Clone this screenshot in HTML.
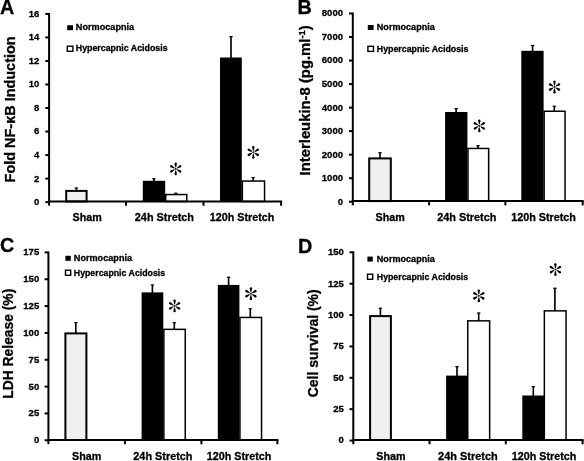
<!DOCTYPE html>
<html><head><meta charset="utf-8"><title>Figure</title>
<style>
html,body{margin:0;padding:0;background:#fff;}
body{width:584px;height:461px;overflow:hidden;}
svg{display:block;will-change:transform;}
text{font-family:"Liberation Sans", sans-serif;fill:#000;stroke:#000;stroke-width:0.3px;}
</style></head>
<body>
<svg width="584" height="461" viewBox="0 0 584 461">
<rect width="584" height="461" fill="#fff"/>
<line x1="76.4" y1="190.9" x2="76.4" y2="188" stroke="#000" stroke-width="1.65" stroke-linecap="butt"/>
<ellipse cx="76.4" cy="187.95" rx="2" ry="0.75" fill="#000"/>
<line x1="153.9" y1="181.8" x2="153.9" y2="178.9" stroke="#000" stroke-width="1.65" stroke-linecap="butt"/>
<ellipse cx="153.9" cy="178.85" rx="2" ry="0.75" fill="#000"/>
<line x1="175.8" y1="194.8" x2="175.8" y2="193.2" stroke="#000" stroke-width="1.65" stroke-linecap="butt"/>
<ellipse cx="175.8" cy="193.15" rx="2" ry="0.75" fill="#000"/>
<line x1="231" y1="58.5" x2="231" y2="36.7" stroke="#000" stroke-width="1.65" stroke-linecap="butt"/>
<ellipse cx="231" cy="36.65" rx="2" ry="0.75" fill="#000"/>
<line x1="253.2" y1="181.3" x2="253.2" y2="177.7" stroke="#000" stroke-width="1.65" stroke-linecap="butt"/>
<ellipse cx="253.2" cy="177.65" rx="2" ry="0.75" fill="#000"/>
<rect x="66.2" y="190.9" width="20.4" height="10.55" fill="#f0f0f0" stroke="#000" stroke-width="2"/>
<rect x="142.8" y="180.8" width="22.4" height="20.65" fill="#000"/>
<rect x="165.75" y="194.55" width="21" height="6.9" fill="#fff" stroke="#000" stroke-width="1.5"/>
<rect x="220" y="57.5" width="21.8" height="143.95" fill="#000"/>
<rect x="242.35" y="181.05" width="22.2" height="20.4" fill="#fff" stroke="#000" stroke-width="1.5"/>
<line x1="49.1" y1="13" x2="49.1" y2="205.65" stroke="#000" stroke-width="2" stroke-linecap="butt"/>
<line x1="45.3" y1="202.14" x2="49.1" y2="202.14" stroke="#000" stroke-width="2" stroke-linecap="butt"/>
<text x="39.4" y="205.04" font-size="9.5" font-weight="bold" text-anchor="end" textLength="5.3" lengthAdjust="spacingAndGlyphs">0</text>
<line x1="45.3" y1="178.61" x2="49.1" y2="178.61" stroke="#000" stroke-width="2" stroke-linecap="butt"/>
<text x="39.4" y="181.51" font-size="9.5" font-weight="bold" text-anchor="end" textLength="5.3" lengthAdjust="spacingAndGlyphs">2</text>
<line x1="45.3" y1="155.08" x2="49.1" y2="155.08" stroke="#000" stroke-width="2" stroke-linecap="butt"/>
<text x="39.4" y="157.98" font-size="9.5" font-weight="bold" text-anchor="end" textLength="5.3" lengthAdjust="spacingAndGlyphs">4</text>
<line x1="45.3" y1="131.55" x2="49.1" y2="131.55" stroke="#000" stroke-width="2" stroke-linecap="butt"/>
<text x="39.4" y="134.45" font-size="9.5" font-weight="bold" text-anchor="end" textLength="5.3" lengthAdjust="spacingAndGlyphs">6</text>
<line x1="45.3" y1="108.02" x2="49.1" y2="108.02" stroke="#000" stroke-width="2" stroke-linecap="butt"/>
<text x="39.4" y="110.92" font-size="9.5" font-weight="bold" text-anchor="end" textLength="5.3" lengthAdjust="spacingAndGlyphs">8</text>
<line x1="45.3" y1="84.49" x2="49.1" y2="84.49" stroke="#000" stroke-width="2" stroke-linecap="butt"/>
<text x="39.4" y="87.39" font-size="9.5" font-weight="bold" text-anchor="end" textLength="10.6" lengthAdjust="spacingAndGlyphs">10</text>
<line x1="45.3" y1="60.96" x2="49.1" y2="60.96" stroke="#000" stroke-width="2" stroke-linecap="butt"/>
<text x="39.4" y="63.86" font-size="9.5" font-weight="bold" text-anchor="end" textLength="10.6" lengthAdjust="spacingAndGlyphs">12</text>
<line x1="45.3" y1="37.43" x2="49.1" y2="37.43" stroke="#000" stroke-width="2" stroke-linecap="butt"/>
<text x="39.4" y="40.33" font-size="9.5" font-weight="bold" text-anchor="end" textLength="10.6" lengthAdjust="spacingAndGlyphs">14</text>
<line x1="45.3" y1="13.9" x2="49.1" y2="13.9" stroke="#000" stroke-width="2" stroke-linecap="butt"/>
<text x="39.4" y="16.8" font-size="9.5" font-weight="bold" text-anchor="end" textLength="10.6" lengthAdjust="spacingAndGlyphs">16</text>
<line x1="48.1" y1="201.45" x2="282.1" y2="201.45" stroke="#000" stroke-width="2" stroke-linecap="butt"/>
<line x1="126" y1="201.45" x2="126" y2="205.75" stroke="#000" stroke-width="2" stroke-linecap="butt"/>
<line x1="203.5" y1="201.45" x2="203.5" y2="205.75" stroke="#000" stroke-width="2" stroke-linecap="butt"/>
<line x1="281.1" y1="201.45" x2="281.1" y2="205.75" stroke="#000" stroke-width="2" stroke-linecap="butt"/>
<text x="72.6" y="221.3" font-size="11" font-weight="bold" text-anchor="start" textLength="29.2" lengthAdjust="spacingAndGlyphs">Sham</text>
<text x="134.8" y="221.3" font-size="11" font-weight="bold" text-anchor="start" textLength="59.2" lengthAdjust="spacingAndGlyphs">24h Stretch</text>
<text x="209.8" y="221.3" font-size="11" font-weight="bold" text-anchor="start" textLength="64.6" lengthAdjust="spacingAndGlyphs">120h Stretch</text>
<rect x="67.2" y="25.2" width="5.8" height="5" fill="#000"/>
<rect x="67.3" y="46.2" width="5.6" height="5.1" fill="#fff" stroke="#000" stroke-width="1.4"/>
<text x="75.8" y="30" font-size="9" font-weight="bold" text-anchor="start" textLength="58.4" lengthAdjust="spacingAndGlyphs">Normocapnia</text>
<text x="75.8" y="51.4" font-size="9" font-weight="bold" text-anchor="start" textLength="91.8" lengthAdjust="spacingAndGlyphs">Hypercapnic Acidosis</text>
<g transform="translate(175.7,168.9) scale(1)"><path d="M-0.45,-1.6 L-1.2,-5.2 A1.2,1.2 0 1,1 1.2,-5.2 L0.45,-1.6 Z" transform="rotate(0)" fill="#000"/><path d="M-0.45,-1.6 L-1.2,-5.2 A1.2,1.2 0 1,1 1.2,-5.2 L0.45,-1.6 Z" transform="rotate(60)" fill="#000"/><path d="M-0.45,-1.6 L-1.2,-5.2 A1.2,1.2 0 1,1 1.2,-5.2 L0.45,-1.6 Z" transform="rotate(120)" fill="#000"/><path d="M-0.45,-1.6 L-1.2,-5.2 A1.2,1.2 0 1,1 1.2,-5.2 L0.45,-1.6 Z" transform="rotate(180)" fill="#000"/><path d="M-0.45,-1.6 L-1.2,-5.2 A1.2,1.2 0 1,1 1.2,-5.2 L0.45,-1.6 Z" transform="rotate(240)" fill="#000"/><path d="M-0.45,-1.6 L-1.2,-5.2 A1.2,1.2 0 1,1 1.2,-5.2 L0.45,-1.6 Z" transform="rotate(300)" fill="#000"/><circle r="1.15" fill="#2a2a2a"/></g>
<g transform="translate(253.3,152.3) scale(1)"><path d="M-0.45,-1.6 L-1.2,-5.2 A1.2,1.2 0 1,1 1.2,-5.2 L0.45,-1.6 Z" transform="rotate(0)" fill="#000"/><path d="M-0.45,-1.6 L-1.2,-5.2 A1.2,1.2 0 1,1 1.2,-5.2 L0.45,-1.6 Z" transform="rotate(60)" fill="#000"/><path d="M-0.45,-1.6 L-1.2,-5.2 A1.2,1.2 0 1,1 1.2,-5.2 L0.45,-1.6 Z" transform="rotate(120)" fill="#000"/><path d="M-0.45,-1.6 L-1.2,-5.2 A1.2,1.2 0 1,1 1.2,-5.2 L0.45,-1.6 Z" transform="rotate(180)" fill="#000"/><path d="M-0.45,-1.6 L-1.2,-5.2 A1.2,1.2 0 1,1 1.2,-5.2 L0.45,-1.6 Z" transform="rotate(240)" fill="#000"/><path d="M-0.45,-1.6 L-1.2,-5.2 A1.2,1.2 0 1,1 1.2,-5.2 L0.45,-1.6 Z" transform="rotate(300)" fill="#000"/><circle r="1.15" fill="#2a2a2a"/></g>
<text x="-0.1" y="14.1" font-size="19.8" font-weight="bold" text-anchor="start">A</text>
<text transform="translate(15.4,109.4) rotate(-90)" x="0" y="0" font-size="15.2" font-weight="bold" text-anchor="middle" textLength="146" lengthAdjust="spacingAndGlyphs">Fold NF-κB Induction</text>
<line x1="380" y1="158.4" x2="380" y2="152.9" stroke="#000" stroke-width="1.65" stroke-linecap="butt"/>
<ellipse cx="380" cy="152.85" rx="2" ry="0.75" fill="#000"/>
<line x1="456.1" y1="113" x2="456.1" y2="108.9" stroke="#000" stroke-width="1.65" stroke-linecap="butt"/>
<ellipse cx="456.1" cy="108.85" rx="2" ry="0.75" fill="#000"/>
<line x1="478" y1="148.7" x2="478" y2="145.7" stroke="#000" stroke-width="1.65" stroke-linecap="butt"/>
<ellipse cx="478" cy="145.65" rx="2" ry="0.75" fill="#000"/>
<line x1="532.6" y1="51.8" x2="532.6" y2="45.5" stroke="#000" stroke-width="1.65" stroke-linecap="butt"/>
<ellipse cx="532.6" cy="45.45" rx="2" ry="0.75" fill="#000"/>
<line x1="554.3" y1="111.5" x2="554.3" y2="106.2" stroke="#000" stroke-width="1.65" stroke-linecap="butt"/>
<ellipse cx="554.3" cy="106.15" rx="2" ry="0.75" fill="#000"/>
<rect x="369.2" y="158.4" width="21.6" height="42.7" fill="#f0f0f0" stroke="#000" stroke-width="2"/>
<rect x="445.1" y="112" width="22.3" height="89.1" fill="#000"/>
<rect x="467.95" y="148.45" width="20.7" height="52.65" fill="#fff" stroke="#000" stroke-width="1.5"/>
<rect x="521.3" y="50.8" width="22.3" height="150.3" fill="#000"/>
<rect x="544.15" y="111.25" width="20.9" height="89.85" fill="#fff" stroke="#000" stroke-width="1.5"/>
<line x1="352.8" y1="12.6" x2="352.8" y2="205.3" stroke="#000" stroke-width="2" stroke-linecap="butt"/>
<line x1="349" y1="201.74" x2="352.8" y2="201.74" stroke="#000" stroke-width="2" stroke-linecap="butt"/>
<text x="343" y="204.64" font-size="9.5" font-weight="bold" text-anchor="end" textLength="5.3" lengthAdjust="spacingAndGlyphs">0</text>
<line x1="349" y1="178.21" x2="352.8" y2="178.21" stroke="#000" stroke-width="2" stroke-linecap="butt"/>
<text x="343" y="181.11" font-size="9.5" font-weight="bold" text-anchor="end" textLength="21.2" lengthAdjust="spacingAndGlyphs">1000</text>
<line x1="349" y1="154.68" x2="352.8" y2="154.68" stroke="#000" stroke-width="2" stroke-linecap="butt"/>
<text x="343" y="157.58" font-size="9.5" font-weight="bold" text-anchor="end" textLength="21.2" lengthAdjust="spacingAndGlyphs">2000</text>
<line x1="349" y1="131.15" x2="352.8" y2="131.15" stroke="#000" stroke-width="2" stroke-linecap="butt"/>
<text x="343" y="134.05" font-size="9.5" font-weight="bold" text-anchor="end" textLength="21.2" lengthAdjust="spacingAndGlyphs">3000</text>
<line x1="349" y1="107.62" x2="352.8" y2="107.62" stroke="#000" stroke-width="2" stroke-linecap="butt"/>
<text x="343" y="110.52" font-size="9.5" font-weight="bold" text-anchor="end" textLength="21.2" lengthAdjust="spacingAndGlyphs">4000</text>
<line x1="349" y1="84.09" x2="352.8" y2="84.09" stroke="#000" stroke-width="2" stroke-linecap="butt"/>
<text x="343" y="86.99" font-size="9.5" font-weight="bold" text-anchor="end" textLength="21.2" lengthAdjust="spacingAndGlyphs">5000</text>
<line x1="349" y1="60.56" x2="352.8" y2="60.56" stroke="#000" stroke-width="2" stroke-linecap="butt"/>
<text x="343" y="63.46" font-size="9.5" font-weight="bold" text-anchor="end" textLength="21.2" lengthAdjust="spacingAndGlyphs">6000</text>
<line x1="349" y1="37.03" x2="352.8" y2="37.03" stroke="#000" stroke-width="2" stroke-linecap="butt"/>
<text x="343" y="39.93" font-size="9.5" font-weight="bold" text-anchor="end" textLength="21.2" lengthAdjust="spacingAndGlyphs">7000</text>
<line x1="349" y1="13.5" x2="352.8" y2="13.5" stroke="#000" stroke-width="2" stroke-linecap="butt"/>
<text x="343" y="16.4" font-size="9.5" font-weight="bold" text-anchor="end" textLength="21.2" lengthAdjust="spacingAndGlyphs">8000</text>
<line x1="351.8" y1="201.1" x2="583.7" y2="201.1" stroke="#000" stroke-width="2" stroke-linecap="butt"/>
<line x1="429.1" y1="201.1" x2="429.1" y2="205.4" stroke="#000" stroke-width="2" stroke-linecap="butt"/>
<line x1="505.4" y1="201.1" x2="505.4" y2="205.4" stroke="#000" stroke-width="2" stroke-linecap="butt"/>
<line x1="582.7" y1="201.1" x2="582.7" y2="205.4" stroke="#000" stroke-width="2" stroke-linecap="butt"/>
<text x="375.6" y="221.3" font-size="11" font-weight="bold" text-anchor="start" textLength="29.2" lengthAdjust="spacingAndGlyphs">Sham</text>
<text x="437.2" y="221.3" font-size="11" font-weight="bold" text-anchor="start" textLength="59.2" lengthAdjust="spacingAndGlyphs">24h Stretch</text>
<text x="511.2" y="221.3" font-size="11" font-weight="bold" text-anchor="start" textLength="64.6" lengthAdjust="spacingAndGlyphs">120h Stretch</text>
<rect x="367.8" y="25" width="5.8" height="5" fill="#000"/>
<rect x="367.9" y="46.3" width="5.6" height="5.1" fill="#fff" stroke="#000" stroke-width="1.4"/>
<text x="376.8" y="30.1" font-size="9" font-weight="bold" text-anchor="start" textLength="58" lengthAdjust="spacingAndGlyphs">Normocapnia</text>
<text x="376.8" y="51.6" font-size="9" font-weight="bold" text-anchor="start" textLength="91.6" lengthAdjust="spacingAndGlyphs">Hypercapnic Acidosis</text>
<g transform="translate(479.3,125.9) scale(1)"><path d="M-0.45,-1.6 L-1.2,-5.2 A1.2,1.2 0 1,1 1.2,-5.2 L0.45,-1.6 Z" transform="rotate(0)" fill="#000"/><path d="M-0.45,-1.6 L-1.2,-5.2 A1.2,1.2 0 1,1 1.2,-5.2 L0.45,-1.6 Z" transform="rotate(60)" fill="#000"/><path d="M-0.45,-1.6 L-1.2,-5.2 A1.2,1.2 0 1,1 1.2,-5.2 L0.45,-1.6 Z" transform="rotate(120)" fill="#000"/><path d="M-0.45,-1.6 L-1.2,-5.2 A1.2,1.2 0 1,1 1.2,-5.2 L0.45,-1.6 Z" transform="rotate(180)" fill="#000"/><path d="M-0.45,-1.6 L-1.2,-5.2 A1.2,1.2 0 1,1 1.2,-5.2 L0.45,-1.6 Z" transform="rotate(240)" fill="#000"/><path d="M-0.45,-1.6 L-1.2,-5.2 A1.2,1.2 0 1,1 1.2,-5.2 L0.45,-1.6 Z" transform="rotate(300)" fill="#000"/><circle r="1.15" fill="#2a2a2a"/></g>
<g transform="translate(554.5,87) scale(1)"><path d="M-0.45,-1.6 L-1.2,-5.2 A1.2,1.2 0 1,1 1.2,-5.2 L0.45,-1.6 Z" transform="rotate(0)" fill="#000"/><path d="M-0.45,-1.6 L-1.2,-5.2 A1.2,1.2 0 1,1 1.2,-5.2 L0.45,-1.6 Z" transform="rotate(60)" fill="#000"/><path d="M-0.45,-1.6 L-1.2,-5.2 A1.2,1.2 0 1,1 1.2,-5.2 L0.45,-1.6 Z" transform="rotate(120)" fill="#000"/><path d="M-0.45,-1.6 L-1.2,-5.2 A1.2,1.2 0 1,1 1.2,-5.2 L0.45,-1.6 Z" transform="rotate(180)" fill="#000"/><path d="M-0.45,-1.6 L-1.2,-5.2 A1.2,1.2 0 1,1 1.2,-5.2 L0.45,-1.6 Z" transform="rotate(240)" fill="#000"/><path d="M-0.45,-1.6 L-1.2,-5.2 A1.2,1.2 0 1,1 1.2,-5.2 L0.45,-1.6 Z" transform="rotate(300)" fill="#000"/><circle r="1.15" fill="#2a2a2a"/></g>
<text x="297.5" y="14.3" font-size="19.8" font-weight="bold" text-anchor="start">B</text>
<text transform="translate(310,100.4) rotate(-90)" x="0" y="0" font-size="14.4" font-weight="bold" text-anchor="middle" textLength="150" lengthAdjust="spacingAndGlyphs">Interleukin-8 (pg.ml<tspan font-size="9" dy="-5">-1</tspan><tspan dy="5">)</tspan></text>
<line x1="75.8" y1="333.4" x2="75.8" y2="322.8" stroke="#000" stroke-width="1.65" stroke-linecap="butt"/>
<ellipse cx="75.8" cy="322.75" rx="2" ry="0.75" fill="#000"/>
<line x1="152.4" y1="293.4" x2="152.4" y2="285.1" stroke="#000" stroke-width="1.65" stroke-linecap="butt"/>
<ellipse cx="152.4" cy="285.05" rx="2" ry="0.75" fill="#000"/>
<line x1="174.3" y1="329.6" x2="174.3" y2="322.9" stroke="#000" stroke-width="1.65" stroke-linecap="butt"/>
<ellipse cx="174.3" cy="322.85" rx="2" ry="0.75" fill="#000"/>
<line x1="228.6" y1="285.9" x2="228.6" y2="277.2" stroke="#000" stroke-width="1.65" stroke-linecap="butt"/>
<ellipse cx="228.6" cy="277.15" rx="2" ry="0.75" fill="#000"/>
<line x1="250.3" y1="317.7" x2="250.3" y2="308.8" stroke="#000" stroke-width="1.65" stroke-linecap="butt"/>
<ellipse cx="250.3" cy="308.75" rx="2" ry="0.75" fill="#000"/>
<rect x="65.4" y="333.4" width="21" height="106.6" fill="#f0f0f0" stroke="#000" stroke-width="2"/>
<rect x="141.6" y="292.4" width="21.7" height="147.6" fill="#000"/>
<rect x="163.85" y="329.35" width="21.4" height="110.65" fill="#fff" stroke="#000" stroke-width="1.5"/>
<rect x="217.8" y="284.9" width="21.6" height="155.1" fill="#000"/>
<rect x="239.95" y="317.45" width="21.6" height="122.55" fill="#fff" stroke="#000" stroke-width="1.5"/>
<line x1="48.4" y1="251.5" x2="48.4" y2="444.2" stroke="#000" stroke-width="2" stroke-linecap="butt"/>
<line x1="44.6" y1="440.28" x2="48.4" y2="440.28" stroke="#000" stroke-width="2" stroke-linecap="butt"/>
<text x="39.2" y="443.18" font-size="9.5" font-weight="bold" text-anchor="end" textLength="5.3" lengthAdjust="spacingAndGlyphs">0</text>
<line x1="44.6" y1="413.44" x2="48.4" y2="413.44" stroke="#000" stroke-width="2" stroke-linecap="butt"/>
<text x="39.2" y="416.34" font-size="9.5" font-weight="bold" text-anchor="end" textLength="10.6" lengthAdjust="spacingAndGlyphs">25</text>
<line x1="44.6" y1="386.6" x2="48.4" y2="386.6" stroke="#000" stroke-width="2" stroke-linecap="butt"/>
<text x="39.2" y="389.5" font-size="9.5" font-weight="bold" text-anchor="end" textLength="10.6" lengthAdjust="spacingAndGlyphs">50</text>
<line x1="44.6" y1="359.76" x2="48.4" y2="359.76" stroke="#000" stroke-width="2" stroke-linecap="butt"/>
<text x="39.2" y="362.66" font-size="9.5" font-weight="bold" text-anchor="end" textLength="10.6" lengthAdjust="spacingAndGlyphs">75</text>
<line x1="44.6" y1="332.92" x2="48.4" y2="332.92" stroke="#000" stroke-width="2" stroke-linecap="butt"/>
<text x="39.2" y="335.82" font-size="9.5" font-weight="bold" text-anchor="end" textLength="15.9" lengthAdjust="spacingAndGlyphs">100</text>
<line x1="44.6" y1="306.08" x2="48.4" y2="306.08" stroke="#000" stroke-width="2" stroke-linecap="butt"/>
<text x="39.2" y="308.98" font-size="9.5" font-weight="bold" text-anchor="end" textLength="15.9" lengthAdjust="spacingAndGlyphs">125</text>
<line x1="44.6" y1="279.24" x2="48.4" y2="279.24" stroke="#000" stroke-width="2" stroke-linecap="butt"/>
<text x="39.2" y="282.14" font-size="9.5" font-weight="bold" text-anchor="end" textLength="15.9" lengthAdjust="spacingAndGlyphs">150</text>
<line x1="44.6" y1="252.4" x2="48.4" y2="252.4" stroke="#000" stroke-width="2" stroke-linecap="butt"/>
<text x="39.2" y="255.3" font-size="9.5" font-weight="bold" text-anchor="end" textLength="15.9" lengthAdjust="spacingAndGlyphs">175</text>
<line x1="47.4" y1="440" x2="278.4" y2="440" stroke="#000" stroke-width="2" stroke-linecap="butt"/>
<line x1="125" y1="440" x2="125" y2="444.3" stroke="#000" stroke-width="2" stroke-linecap="butt"/>
<line x1="201.4" y1="440" x2="201.4" y2="444.3" stroke="#000" stroke-width="2" stroke-linecap="butt"/>
<line x1="277.4" y1="440" x2="277.4" y2="444.3" stroke="#000" stroke-width="2" stroke-linecap="butt"/>
<text x="72" y="459.7" font-size="11" font-weight="bold" text-anchor="start" textLength="29.2" lengthAdjust="spacingAndGlyphs">Sham</text>
<text x="133.3" y="459.7" font-size="11" font-weight="bold" text-anchor="start" textLength="59.2" lengthAdjust="spacingAndGlyphs">24h Stretch</text>
<text x="206.8" y="459.7" font-size="11" font-weight="bold" text-anchor="start" textLength="64.6" lengthAdjust="spacingAndGlyphs">120h Stretch</text>
<rect x="65.4" y="255.8" width="5.4" height="5" fill="#000"/>
<rect x="65.5" y="270.2" width="5.2" height="5.1" fill="#fff" stroke="#000" stroke-width="1.4"/>
<text x="73.8" y="260.9" font-size="9" font-weight="bold" text-anchor="start" textLength="58.3" lengthAdjust="spacingAndGlyphs">Normocapnia</text>
<text x="73.8" y="276.2" font-size="9" font-weight="bold" text-anchor="start" textLength="91.3" lengthAdjust="spacingAndGlyphs">Hypercapnic Acidosis</text>
<g transform="translate(174.6,305.9) scale(1)"><path d="M-0.45,-1.6 L-1.2,-5.2 A1.2,1.2 0 1,1 1.2,-5.2 L0.45,-1.6 Z" transform="rotate(0)" fill="#000"/><path d="M-0.45,-1.6 L-1.2,-5.2 A1.2,1.2 0 1,1 1.2,-5.2 L0.45,-1.6 Z" transform="rotate(60)" fill="#000"/><path d="M-0.45,-1.6 L-1.2,-5.2 A1.2,1.2 0 1,1 1.2,-5.2 L0.45,-1.6 Z" transform="rotate(120)" fill="#000"/><path d="M-0.45,-1.6 L-1.2,-5.2 A1.2,1.2 0 1,1 1.2,-5.2 L0.45,-1.6 Z" transform="rotate(180)" fill="#000"/><path d="M-0.45,-1.6 L-1.2,-5.2 A1.2,1.2 0 1,1 1.2,-5.2 L0.45,-1.6 Z" transform="rotate(240)" fill="#000"/><path d="M-0.45,-1.6 L-1.2,-5.2 A1.2,1.2 0 1,1 1.2,-5.2 L0.45,-1.6 Z" transform="rotate(300)" fill="#000"/><circle r="1.15" fill="#2a2a2a"/></g>
<g transform="translate(250.9,293.7) scale(1)"><path d="M-0.45,-1.6 L-1.2,-5.2 A1.2,1.2 0 1,1 1.2,-5.2 L0.45,-1.6 Z" transform="rotate(0)" fill="#000"/><path d="M-0.45,-1.6 L-1.2,-5.2 A1.2,1.2 0 1,1 1.2,-5.2 L0.45,-1.6 Z" transform="rotate(60)" fill="#000"/><path d="M-0.45,-1.6 L-1.2,-5.2 A1.2,1.2 0 1,1 1.2,-5.2 L0.45,-1.6 Z" transform="rotate(120)" fill="#000"/><path d="M-0.45,-1.6 L-1.2,-5.2 A1.2,1.2 0 1,1 1.2,-5.2 L0.45,-1.6 Z" transform="rotate(180)" fill="#000"/><path d="M-0.45,-1.6 L-1.2,-5.2 A1.2,1.2 0 1,1 1.2,-5.2 L0.45,-1.6 Z" transform="rotate(240)" fill="#000"/><path d="M-0.45,-1.6 L-1.2,-5.2 A1.2,1.2 0 1,1 1.2,-5.2 L0.45,-1.6 Z" transform="rotate(300)" fill="#000"/><circle r="1.15" fill="#2a2a2a"/></g>
<text x="0" y="252.2" font-size="19.8" font-weight="bold" text-anchor="start">C</text>
<text transform="translate(12.9,343.7) rotate(-90)" x="0" y="0" font-size="14.6" font-weight="bold" text-anchor="middle" textLength="110" lengthAdjust="spacingAndGlyphs">LDH Release (%)</text>
<line x1="380.4" y1="316.1" x2="380.4" y2="308.2" stroke="#000" stroke-width="1.65" stroke-linecap="butt"/>
<ellipse cx="380.4" cy="308.15" rx="2" ry="0.75" fill="#000"/>
<line x1="457" y1="376.6" x2="457" y2="366.8" stroke="#000" stroke-width="1.65" stroke-linecap="butt"/>
<ellipse cx="457" cy="366.75" rx="2" ry="0.75" fill="#000"/>
<line x1="478.7" y1="321.1" x2="478.7" y2="313" stroke="#000" stroke-width="1.65" stroke-linecap="butt"/>
<ellipse cx="478.7" cy="312.95" rx="2" ry="0.75" fill="#000"/>
<line x1="533.3" y1="396.5" x2="533.3" y2="386.7" stroke="#000" stroke-width="1.65" stroke-linecap="butt"/>
<ellipse cx="533.3" cy="386.65" rx="2" ry="0.75" fill="#000"/>
<line x1="554.9" y1="311.1" x2="554.9" y2="288.3" stroke="#000" stroke-width="1.65" stroke-linecap="butt"/>
<ellipse cx="554.9" cy="288.25" rx="2" ry="0.75" fill="#000"/>
<rect x="370.1" y="316.1" width="20.8" height="123.9" fill="#f0f0f0" stroke="#000" stroke-width="2"/>
<rect x="446.1" y="375.6" width="21.5" height="64.4" fill="#000"/>
<rect x="467.75" y="320.85" width="21.9" height="119.15" fill="#fff" stroke="#000" stroke-width="1.5"/>
<rect x="522.3" y="395.5" width="21.8" height="44.5" fill="#000"/>
<rect x="544.35" y="310.85" width="21.7" height="129.15" fill="#fff" stroke="#000" stroke-width="1.5"/>
<line x1="353.3" y1="251.4" x2="353.3" y2="444.2" stroke="#000" stroke-width="2" stroke-linecap="butt"/>
<line x1="349.5" y1="440.58" x2="353.3" y2="440.58" stroke="#000" stroke-width="2" stroke-linecap="butt"/>
<text x="343.8" y="443.48" font-size="9.5" font-weight="bold" text-anchor="end" textLength="5.3" lengthAdjust="spacingAndGlyphs">0</text>
<line x1="349.5" y1="409.2" x2="353.3" y2="409.2" stroke="#000" stroke-width="2" stroke-linecap="butt"/>
<text x="343.8" y="412.1" font-size="9.5" font-weight="bold" text-anchor="end" textLength="10.6" lengthAdjust="spacingAndGlyphs">25</text>
<line x1="349.5" y1="377.82" x2="353.3" y2="377.82" stroke="#000" stroke-width="2" stroke-linecap="butt"/>
<text x="343.8" y="380.72" font-size="9.5" font-weight="bold" text-anchor="end" textLength="10.6" lengthAdjust="spacingAndGlyphs">50</text>
<line x1="349.5" y1="346.44" x2="353.3" y2="346.44" stroke="#000" stroke-width="2" stroke-linecap="butt"/>
<text x="343.8" y="349.34" font-size="9.5" font-weight="bold" text-anchor="end" textLength="10.6" lengthAdjust="spacingAndGlyphs">75</text>
<line x1="349.5" y1="315.06" x2="353.3" y2="315.06" stroke="#000" stroke-width="2" stroke-linecap="butt"/>
<text x="343.8" y="317.96" font-size="9.5" font-weight="bold" text-anchor="end" textLength="15.9" lengthAdjust="spacingAndGlyphs">100</text>
<line x1="349.5" y1="283.68" x2="353.3" y2="283.68" stroke="#000" stroke-width="2" stroke-linecap="butt"/>
<text x="343.8" y="286.58" font-size="9.5" font-weight="bold" text-anchor="end" textLength="15.9" lengthAdjust="spacingAndGlyphs">125</text>
<line x1="349.5" y1="252.3" x2="353.3" y2="252.3" stroke="#000" stroke-width="2" stroke-linecap="butt"/>
<text x="343.8" y="255.2" font-size="9.5" font-weight="bold" text-anchor="end" textLength="15.9" lengthAdjust="spacingAndGlyphs">150</text>
<line x1="352.3" y1="440" x2="583.6" y2="440" stroke="#000" stroke-width="2" stroke-linecap="butt"/>
<line x1="429.5" y1="440" x2="429.5" y2="444.3" stroke="#000" stroke-width="2" stroke-linecap="butt"/>
<line x1="505.8" y1="440" x2="505.8" y2="444.3" stroke="#000" stroke-width="2" stroke-linecap="butt"/>
<line x1="582.6" y1="440" x2="582.6" y2="444.3" stroke="#000" stroke-width="2" stroke-linecap="butt"/>
<text x="376.3" y="459.6" font-size="11" font-weight="bold" text-anchor="start" textLength="29.2" lengthAdjust="spacingAndGlyphs">Sham</text>
<text x="438.1" y="459.6" font-size="11" font-weight="bold" text-anchor="start" textLength="59.6" lengthAdjust="spacingAndGlyphs">24h Stretch</text>
<text x="511.8" y="459.6" font-size="11" font-weight="bold" text-anchor="start" textLength="64.6" lengthAdjust="spacingAndGlyphs">120h Stretch</text>
<rect x="367.4" y="256.6" width="5.4" height="5" fill="#000"/>
<rect x="367.5" y="274.2" width="5.2" height="5.1" fill="#fff" stroke="#000" stroke-width="1.4"/>
<text x="376.8" y="261.5" font-size="9" font-weight="bold" text-anchor="start" textLength="58" lengthAdjust="spacingAndGlyphs">Normocapnia</text>
<text x="376.8" y="279.8" font-size="9" font-weight="bold" text-anchor="start" textLength="91.3" lengthAdjust="spacingAndGlyphs">Hypercapnic Acidosis</text>
<g transform="translate(478.8,295.8) scale(1)"><path d="M-0.45,-1.6 L-1.2,-5.2 A1.2,1.2 0 1,1 1.2,-5.2 L0.45,-1.6 Z" transform="rotate(0)" fill="#000"/><path d="M-0.45,-1.6 L-1.2,-5.2 A1.2,1.2 0 1,1 1.2,-5.2 L0.45,-1.6 Z" transform="rotate(60)" fill="#000"/><path d="M-0.45,-1.6 L-1.2,-5.2 A1.2,1.2 0 1,1 1.2,-5.2 L0.45,-1.6 Z" transform="rotate(120)" fill="#000"/><path d="M-0.45,-1.6 L-1.2,-5.2 A1.2,1.2 0 1,1 1.2,-5.2 L0.45,-1.6 Z" transform="rotate(180)" fill="#000"/><path d="M-0.45,-1.6 L-1.2,-5.2 A1.2,1.2 0 1,1 1.2,-5.2 L0.45,-1.6 Z" transform="rotate(240)" fill="#000"/><path d="M-0.45,-1.6 L-1.2,-5.2 A1.2,1.2 0 1,1 1.2,-5.2 L0.45,-1.6 Z" transform="rotate(300)" fill="#000"/><circle r="1.15" fill="#2a2a2a"/></g>
<g transform="translate(555.4,269.6) scale(1)"><path d="M-0.45,-1.6 L-1.2,-5.2 A1.2,1.2 0 1,1 1.2,-5.2 L0.45,-1.6 Z" transform="rotate(0)" fill="#000"/><path d="M-0.45,-1.6 L-1.2,-5.2 A1.2,1.2 0 1,1 1.2,-5.2 L0.45,-1.6 Z" transform="rotate(60)" fill="#000"/><path d="M-0.45,-1.6 L-1.2,-5.2 A1.2,1.2 0 1,1 1.2,-5.2 L0.45,-1.6 Z" transform="rotate(120)" fill="#000"/><path d="M-0.45,-1.6 L-1.2,-5.2 A1.2,1.2 0 1,1 1.2,-5.2 L0.45,-1.6 Z" transform="rotate(180)" fill="#000"/><path d="M-0.45,-1.6 L-1.2,-5.2 A1.2,1.2 0 1,1 1.2,-5.2 L0.45,-1.6 Z" transform="rotate(240)" fill="#000"/><path d="M-0.45,-1.6 L-1.2,-5.2 A1.2,1.2 0 1,1 1.2,-5.2 L0.45,-1.6 Z" transform="rotate(300)" fill="#000"/><circle r="1.15" fill="#2a2a2a"/></g>
<text x="298" y="252.8" font-size="19.8" font-weight="bold" text-anchor="start">D</text>
<text transform="translate(318,343.3) rotate(-90)" x="0" y="0" font-size="15" font-weight="bold" text-anchor="middle" textLength="108" lengthAdjust="spacingAndGlyphs">Cell survival (%)</text>
</svg>
</body></html>
